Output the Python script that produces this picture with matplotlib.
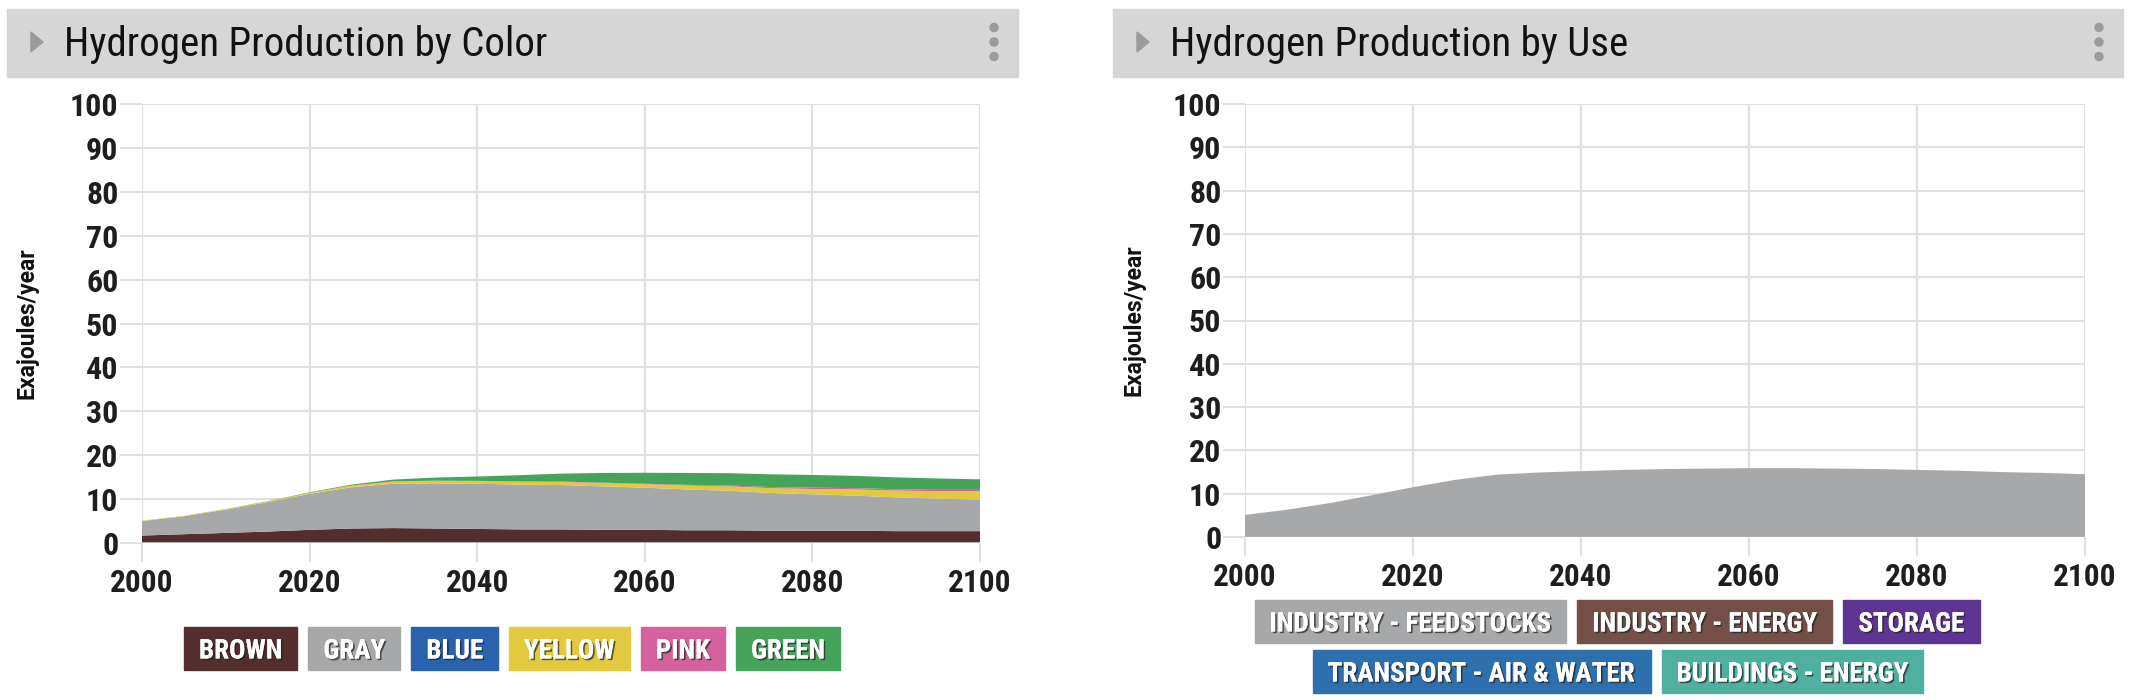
import matplotlib
matplotlib.use('Agg')
import matplotlib.pyplot as plt
import matplotlib.patheffects as pe
from matplotlib.patches import Rectangle, Ellipse, Polygon

years = [2000, 2005, 2010, 2015, 2020, 2025, 2030, 2035, 2040, 2045, 2050,
         2055, 2060, 2065, 2070, 2075, 2080, 2085, 2090, 2095, 2100]

# hydrogen by color, EJ/year
brown = [1.7, 2.0, 2.3, 2.6, 3.0, 3.3, 3.4, 3.3, 3.2, 3.1, 3.1, 3.0, 3.0,
         2.9, 2.9, 2.8, 2.8, 2.8, 2.7, 2.7, 2.7]
gray = [3.3, 4.1, 5.3, 6.7, 8.2, 9.4, 10.1, 10.3, 10.3, 10.2, 10.1, 9.9, 9.6,
        9.3, 9.0, 8.6, 8.3, 8.0, 7.7, 7.4, 7.2]
blue = [0.0] * 21
yellow = [0.1, 0.1, 0.15, 0.2, 0.25, 0.35, 0.5, 0.55, 0.6, 0.65, 0.7, 0.75,
          0.8, 0.9, 1.0, 1.1, 1.2, 1.4, 1.55, 1.7, 1.9]
pink = [0.0, 0.0, 0.0, 0.0, 0.0, 0.05, 0.05, 0.05, 0.05, 0.1, 0.1, 0.1, 0.1,
        0.15, 0.2, 0.25, 0.3, 0.3, 0.3, 0.3, 0.3]
green = [0.0, 0.0, 0.02, 0.05, 0.1, 0.2, 0.4, 0.7, 1.0, 1.4, 1.8, 2.2, 2.5,
         2.7, 2.8, 2.9, 2.9, 2.8, 2.7, 2.6, 2.4]
color_names = ['BROWN', 'GRAY', 'BLUE', 'YELLOW', 'PINK', 'GREEN']
color_cols = ['#542d2e', '#a7a8aa', '#2a62ad', '#e3c940', '#d5629c', '#46a35a']

# hydrogen by use, EJ/year
feedstocks = [5.1, 6.3, 7.8, 9.6, 11.5, 13.2, 14.4, 14.9, 15.2, 15.5, 15.7,
              15.8, 15.9, 15.9, 15.8, 15.7, 15.5, 15.3, 15.0, 14.8, 14.5]
ind_energy = [0.0] * 21
storage = [0.0] * 21
transport = [0.0] * 21
buildings = [0.0] * 21
use_names = ['INDUSTRY - FEEDSTOCKS', 'INDUSTRY - ENERGY', 'STORAGE',
             'TRANSPORT - AIR & WATER', 'BUILDINGS - ENERGY']
use_cols = ['#a7a8aa', '#734f48', '#5f3594', '#2e6fae', '#4fb0a0']

COND = 'Roboto Condensed'
plt.rcParams['font.family'] = [COND, 'DejaVu Sans']

W, H = 2134, 700
fig = plt.figure(figsize=(W / 100, H / 100), dpi=100)


def fx(x):
    return x / W


def fy(y):
    return 1 - y / H


def header(x0, x1, title):
    fig.patches.append(Rectangle((fx(x0), fy(77)), (x1 - x0) / W, 68 / H,
                                 transform=fig.transFigure, color='#d6d6d6', zorder=0))
    tx = x0 + 30
    fig.patches.append(Polygon([(fx(tx - 6), fy(32)), (fx(tx - 6), fy(52)), (fx(tx + 6), fy(42))],
                               closed=True, transform=fig.transFigure, color='#9b9b9b'))
    fig.text(fx(x0 + 57), fy(44), title, fontsize=29.5, color='#111111', va='center')
    for dy in (-14.5, 0, 14.5):
        fig.patches.append(Ellipse((fx(x1 - 24), fy(42 + dy)), 8 / W, 8 / H,
                                   transform=fig.transFigure, color='#9b9b9b'))


def style(ax):
    ax.set_xlim(2000, 2100)
    ax.set_ylim(0, 100)
    ax.set_xticks(range(2000, 2101, 20))
    ax.set_yticks(range(0, 101, 10))
    ax.grid(color='#e0e0e0', linewidth=1.5)
    ax.set_axisbelow(True)
    for s in ax.spines.values():
        s.set_visible(False)
    ax.axvline(2000, color='#d4d4d4', linewidth=1.5, zorder=0)
    ax.axhline(0, color='#b0b0b0', linewidth=2.2, zorder=5)
    ax.tick_params(axis='y', length=16, color='#e0e0e0', width=1.5, pad=1, labelsize=23)
    ax.tick_params(axis='x', length=14, color='#e0e0e0', width=1.5, pad=4, labelsize=22.5)
    for lab in ax.get_xticklabels() + ax.get_yticklabels():
        lab.set_fontweight('bold')
        lab.set_color('#1e1e1e')
    ax.set_ylabel('Exajoules/year', fontsize=16.5, fontweight='bold',
                  family='Roboto', color='#111111')


def legend_row(names, cols, cx, cy, gap=11, padx=15, h=43):
    texts = []
    for n in names:
        t = fig.text(0, fy(cy), n, fontsize=19.5, fontweight='bold', color='white',
                     va='center_baseline', ha='center', zorder=3,
                     path_effects=[pe.withSimplePatchShadow(offset=(1.2, -1.2),
                                                            shadow_rgbFace='#222222', alpha=0.7),
                                   pe.Normal()])
        texts.append(t)
    fig.canvas.draw()
    r = fig.canvas.get_renderer()
    widths = [t.get_window_extent(r).width + 2 * padx for t in texts]
    total = sum(widths) + gap * (len(widths) - 1)
    x = cx - total / 2
    for t, w, c in zip(texts, widths, cols):
        fig.patches.append(Rectangle((fx(x), fy(cy + h / 2)), w / W, h / H,
                                     transform=fig.transFigure, color=c, zorder=1))
        t.set_x(fx(x + w / 2))
        x += w + gap


header(7, 1018, 'Hydrogen Production by Color')
header(1113, 2123, 'Hydrogen Production by Use')

ax1 = fig.add_axes([fx(142), fy(543), (980 - 142) / W, (543 - 104) / H])
ax1.stackplot(years, brown, gray, blue, yellow, pink, green, colors=color_cols,
              linewidth=0)
style(ax1)
ax1.yaxis.set_label_coords(-0.124, 0.5)

ax2 = fig.add_axes([fx(1245), fy(537), (2085 - 1245) / W, (537 - 104) / H])
ax2.stackplot(years, feedstocks, ind_energy, storage, transport, buildings,
              colors=use_cols, linewidth=0)
style(ax2)
ax2.yaxis.set_label_coords(-0.118, 0.5)

legend_row(color_names, color_cols, 512, 648)
legend_row(use_names[:3], use_cols[:3], 1617, 621)
legend_row(use_names[3:], use_cols[3:], 1618, 671)

fig.savefig('out.png', dpi=100)
